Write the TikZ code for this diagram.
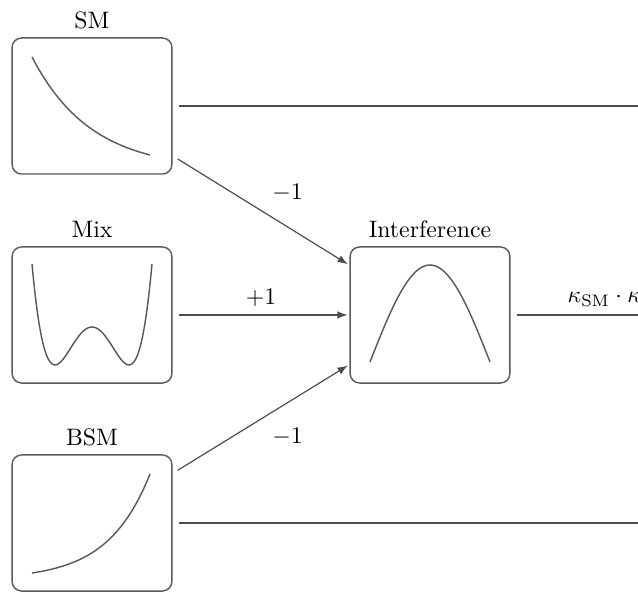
\documentclass[tikz,border=0pt]{standalone}
\usepackage{amsmath}
\usetikzlibrary{arrows}

\begin{document}
\begin{tikzpicture}[kasten/.style={draw=black!65, line width=0.6pt, rounded corners=4pt, minimum width=2.36cm, minimum height=2.01cm, inner sep=0pt},
			kurve/.style={color=black!65, line width=0.6pt, smooth},
			verb/.style={draw=black!70, line width=0.5pt, shorten <=2.5pt},
			x=0.01477cm, y=0.01477cm,
			>=latex,   %Pfeilspitzen
			font=\normalsize]
			%Bildbereich
			\useasboundingbox (0,0) rectangle (638,593);
			\clip (0,0) rectangle (638,593);
			% Kaesten zeichnen
			\node[kasten, label=above:SM] (sm) at (92,487) {};
			\node[kasten, label=above:Mix] (mix) at (92,278) {};
			\node[kasten, label=above:BSM] (bsm) at (92,70) {};
			\node[kasten, label=above:Interference] (intf) at (430,278) {};
			% Endpunkte rechts
			\coordinate (smend) at (740,487);
			\coordinate (intfend) at (740,278);
			\coordinate (bsmend) at (740,70);
			%Kurven zeichnen:
			\begin{scope}[shift={(sm)}]
				\draw[kurve] plot[domain=-60:58, samples=50] (\x, {-49+98*(exp(-2*(\x+60)/118)-exp(-2))/(1-exp(-2))});
			\end{scope}
			\begin{scope}[shift={(mix)}]
				\draw[kurve] plot[domain=-60:60, samples=61] (\x, {-12+38*((\x*\x/1369)*(\x*\x/1369)-2*\x*\x/1369)});
			\end{scope}
			\begin{scope}[shift={(bsm)}]
				\draw[kurve] plot[domain=-60:58, samples=50] (\x, {-50+99*(exp(2.8*(\x+60)/118)-1)/(exp(2.8)-1)});
			\end{scope}
			\begin{scope}[shift={(intf)}]
				\draw[kurve] plot[domain=-60:60, samples=50] (\x, {-47+97*cos(1.5*\x)});
			\end{scope}
			% Verbindungen
			\draw[verb] (sm) -- (smend);
			\draw[verb, ->, shorten >=0.8pt] (sm) -- (intf) node[pos=0.65, above=7pt] {$-1$};
			\draw[verb, ->, shorten >=0.8pt] (mix) -- (intf) node[midway, above] {$+1$};
			\draw[verb, ->, shorten >=0.8pt] (bsm) -- (intf) node[pos=0.65, below=7pt] {$-1$};
			\draw[verb] (bsm) -- (bsmend);
			\draw[verb] (intf) -- (intfend) node[midway, above] {$\kappa_{\mathrm{SM}}\cdot\kappa_{\mathrm{BSM}}$};
		\end{tikzpicture}
\end{document}
